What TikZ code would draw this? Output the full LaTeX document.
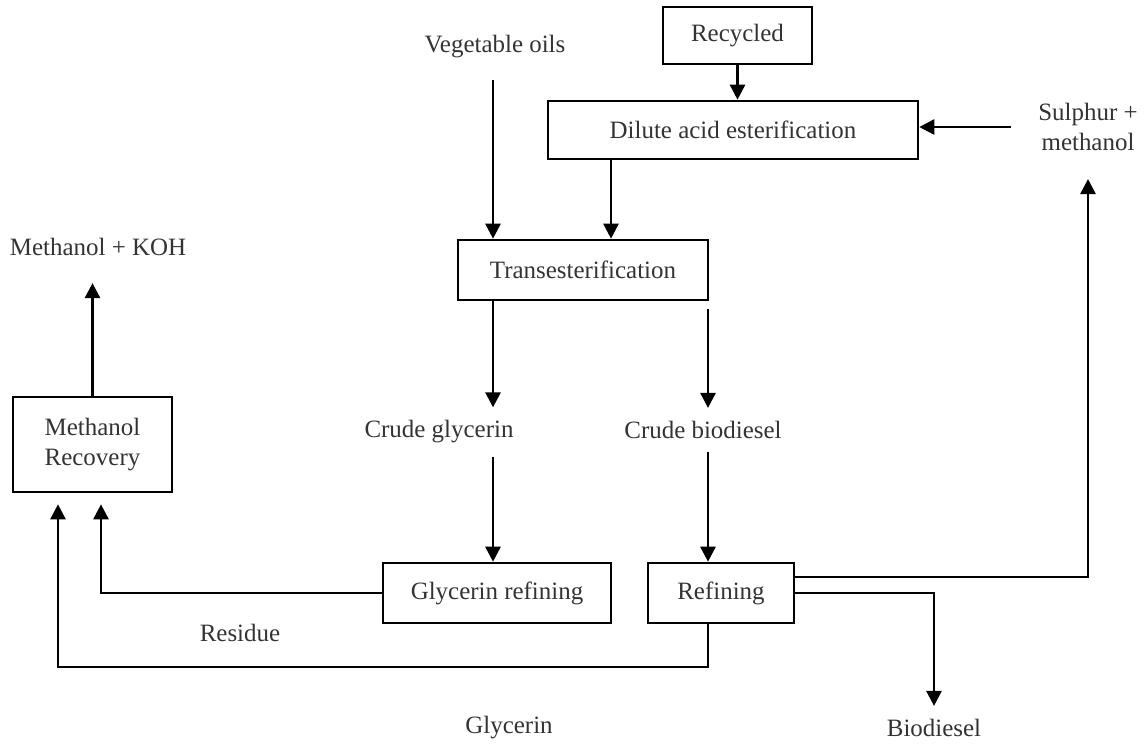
\documentclass[tikz,border=0pt]{standalone}
\usepackage{fontspec}
\setmainfont{Liberation Serif}
\usetikzlibrary{arrows.meta}
\begin{document}
\begin{tikzpicture}[x=0.02cm,y=-0.02cm,line width=1.5pt,
  font=\fontsize{14.2pt}{17pt}\selectfont,
  box/.style={draw,inner sep=0pt,align=center,text=black!80},
  lbl/.style={inner sep=0.24cm,align=center,text=black!80},
  flow/.style={-{Triangle[width=0.3cm,length=0.3cm]}}]
\useasboundingbox (0,0) rectangle (1145,745);
%\draw[teal,step=50] (0,0) grid (1145,745);
\node[box,minimum width=2.98cm,minimum height=1.14cm] (recy) at (737.5,35.5) {Recycled};
\node[box,minimum width=7.4cm,minimum height=1.16cm] (dil) at (733,130) {Dilute acid esterification};
\node[box,minimum width=5cm,minimum height=1.2cm] (trans) at (583,270) {Transesterification};
\node[box,minimum width=3.18cm,minimum height=1.9cm] (metrec) at (92.5,444.5) {Methanol\\Recovery};
\node[box,minimum width=4.56cm,minimum height=1.2cm] (glyref) at (497,593) {Glycerin refining};
\node[box,minimum width=2.92cm,minimum height=1.2cm] (refin) at (721,593) {Refining};
\node[lbl] (vegoil) at (495,47) {Vegetable oils};
\node[lbl] (sulph) at (1088,127) {Sulphur +\\methanol};
\node[lbl] (mkoh) at (98,247) {Methanol + KOH};
\node[lbl] (cglyc) at (439,432) {Crude glycerin};
\node[lbl] (cbio) at (703,430) {Crude biodiesel};
\node[lbl] (resid) at (240,633) {Residue};
\node[lbl] (glyc) at (509,728) {Glycerin};
\node[lbl] (biod) at (934,728) {Biodiesel};
\coordinate (cL) at (493,0); \coordinate (cM) at (611,0); \coordinate (cR) at (708,0);
\coordinate (resx) at (101,0); \coordinate (loop) at (58,667);
\draw[flow,shorten <=0.16cm] (vegoil.south -| cL) -- (cL |- trans.north);
\draw[flow] (recy.south) -- (recy.south |- dil.north);
\draw[flow,shorten <=0.28cm] (sulph.west) -- (sulph.west -| dil.east);
\draw[flow] (cM |- dil.south) -- (cM |- trans.north);
\draw[flow] (cL |- trans.south) -- (cL |- cglyc.north);
\draw[flow,shorten <=0.16cm] (cR |- trans.south) -- (cR |- cbio.north);
\draw[flow] (cL |- cglyc.south) -- (cL |- glyref.north);
\draw[flow] (cR |- cbio.south) -- (cR |- refin.north);
\draw[flow,shorten >=0.28cm] (metrec.north) -- (metrec.north |- mkoh.south);
\draw[flow,shorten >=0.22cm] (glyref.west) -| (resx |- metrec.south);
\draw[flow,shorten >=0.22cm] (cR |- refin.south) -- (cR |- loop) -| (loop |- metrec.south);
\draw[flow,shorten >=0.3cm] ([yshift=0.32cm]refin.east) -| (sulph.south);
\draw[flow] (refin.east) -| (biod.north);
\end{tikzpicture}
\end{document}
